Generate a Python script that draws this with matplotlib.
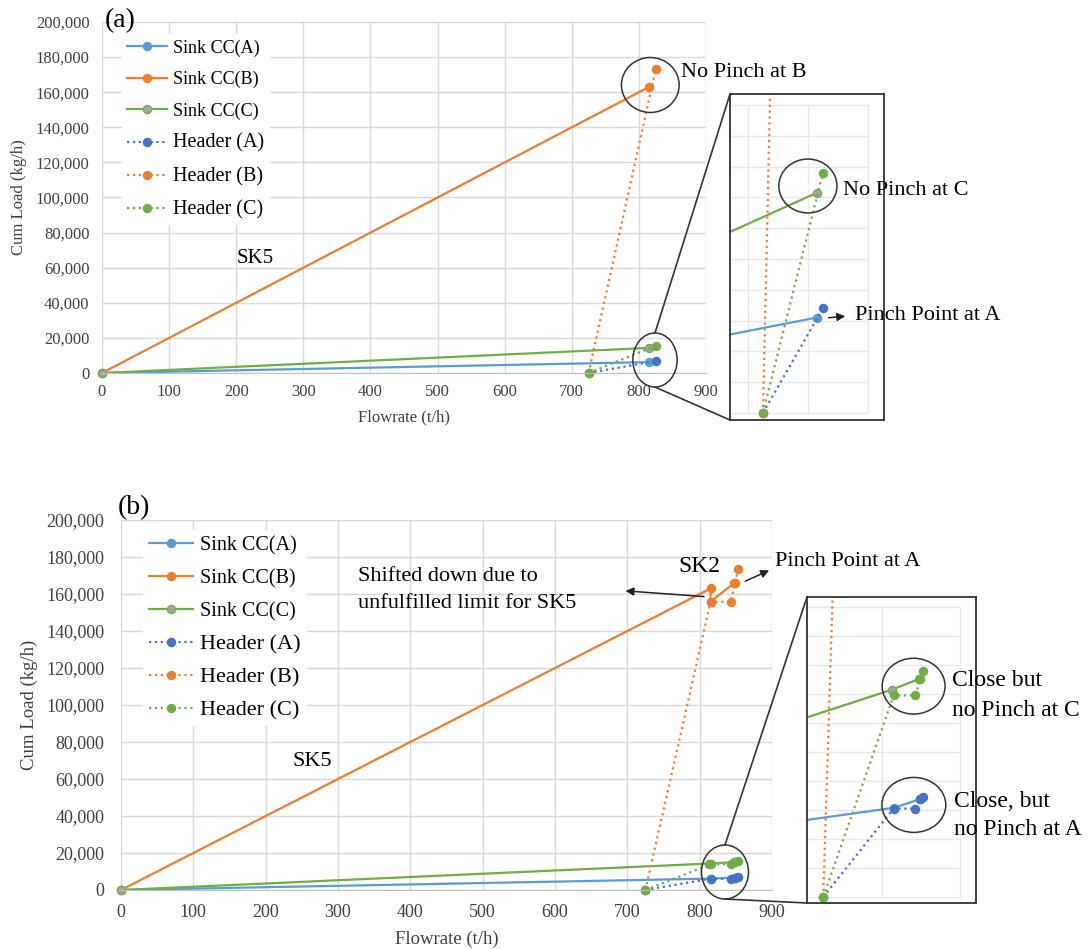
import matplotlib.pyplot as plt
from matplotlib.patches import Ellipse, ConnectionPatch
from matplotlib.ticker import FuncFormatter

plt.rcParams['font.family'] = ['Liberation Serif', 'DejaVu Serif']

# ---- data ----
labels = ['Sink CC(A)', 'Sink CC(B)', 'Sink CC(C)', 'Header (A)', 'Header (B)', 'Header (C)']

# panel (a)
a_sink_x = [0, 815]
a_sinkA_y = [0, 6200]
a_sinkB_y = [0, 163000]
a_sinkC_y = [0, 14300]
a_head_x = [725, 825]
a_headA_y = [0, 6800]
a_headB_y = [0, 173000]
a_headC_y = [0, 15600]

# panel (b)
b_sinkA_x = [0, 815, 849]
b_sinkA_y = [0, 6150, 6750]
b_sinkB_x = [0, 815, 815, 847]
b_sinkB_y = [0, 163000, 155800, 165800]
b_sinkC_x = [0, 813, 848]
b_sinkC_y = [0, 14300, 15050]
b_head_x = [725, 815, 843, 849, 853]
b_headA_y = [0, 6100, 6100, 6750, 6900]
b_headB_y = [0, 155800, 155800, 165800, 173500]
b_headC_y = [0, 13900, 13900, 15050, 15600]

# ---- styles ----
C_SA, C_SB, C_SC = '#5B9BD5', '#ED7D31', '#70AD47'
C_HA, C_HB, C_HC = '#4472C4', '#ED7D31', '#70AD47'
GRAY_M = '#A5A5A5'
GRID = '#d9d9d9'
TXT = '#404040'

W, H = 1091, 949
fig = plt.figure(figsize=(W / 100, H / 100), dpi=100)


def rect(x0, y0, x1, y1):
    # pixel box (top-left origin) -> figure rect
    return [x0 / W, 1 - y1 / H, (x1 - x0) / W, (y1 - y0) / H]


def draw(ax, sinks, heads, clip):
    cols = [C_SA, C_SB, C_SC]
    for i, (x, y) in enumerate(sinks):
        face = GRAY_M if i == 2 else cols[i]
        ax.plot(x, y, '-', color=cols[i], lw=1.6, marker='o', ms=5.8,
                mfc=face, mec=cols[i], label=labels[i], clip_on=clip)
    hcols = [C_HA, C_HB, C_HC]
    for i, (x, y) in enumerate(heads):
        ax.plot(x, y, ':', color=hcols[i], lw=1.6, marker='o', ms=5.8,
                label=labels[3 + i], clip_on=clip)


def main_axes(r, tick_fs, lab_fs, xpad, ypad):
    ax = fig.add_axes(r)
    ax.set_xlim(0, 900)
    ax.set_ylim(0, 200000)
    ax.set_xticks(range(0, 901, 100))
    ax.set_yticks(range(0, 200001, 20000))
    ax.yaxis.set_major_formatter(FuncFormatter(lambda v, p: f'{int(v):,}'))
    ax.grid(True, color=GRID, lw=1)
    ax.set_axisbelow(True)
    for s in ['top', 'right', 'left']:
        ax.spines[s].set_visible(False)
    ax.spines['bottom'].set_color('#bfbfbf')
    ax.tick_params(axis='x', length=0, labelsize=tick_fs, colors=TXT, pad=xpad)
    ax.tick_params(axis='y', length=0, labelsize=tick_fs, colors=TXT, pad=ypad)
    ax.set_xlabel('Flowrate (t/h)', fontsize=lab_fs, color=TXT, labelpad=7)
    ax.set_ylabel('Cum Load (kg/h)', fontsize=lab_fs, color=TXT, labelpad=6)
    return ax


def inset_axes(r, xlim, ylim):
    ax = fig.add_axes(r)
    ax.set_xlim(xlim)
    ax.set_ylim(ylim)
    ax.set_xticks([])
    ax.set_yticks([])
    ax.hlines(range(0, 20001, 2000), xlim[0], 900, color='#e8e8e8', lw=1, zorder=0)
    ax.vlines([700, 800, 900], 0, 20000, color='#e8e8e8', lw=1, zorder=0)
    for s in ax.spines.values():
        s.set_color('#333333')
        s.set_linewidth(1.3)
    return ax


def legend(ax, x, y, fs, hfs, spacing):
    leg = ax.legend(loc='upper left', bbox_to_anchor=(x / W, 1 - y / H),
                    bbox_transform=fig.transFigure, fontsize=fs, frameon=True,
                    fancybox=False, edgecolor='none', facecolor='white',
                    framealpha=1, handlelength=2.2, handletextpad=0.35,
                    labelspacing=spacing, borderpad=0.3, numpoints=1)
    for t in leg.get_texts()[3:]:
        t.set_fontsize(hfs)
    return leg


def circle(ax, cx, cy, w, h):
    ax.add_patch(Ellipse((cx, cy), w, h, fill=False, ec='#333333', lw=1.1,
                         clip_on=False, zorder=5))


def connect(ax_from, xy, ax_to, corner):
    con = ConnectionPatch(xyA=xy, coordsA=ax_from.transData, xyB=corner,
                          coordsB=ax_to.transAxes, color='#333333', lw=1.2)
    fig.add_artist(con)


arrow = dict(arrowstyle='-|>', color='#222222', lw=1.1, mutation_scale=12)

# ================= panel (a) =================
ax_a = main_axes(rect(102, 22, 706, 373), 12, 12, 8, 9)
draw(ax_a, [(a_sink_x, a_sinkA_y), (a_sink_x, a_sinkB_y), (a_sink_x, a_sinkC_y)],
     [(a_head_x, a_headA_y), (a_head_x, a_headB_y), (a_head_x, a_headC_y)], False)
legend(ax_a, 113, 25, 13, 14.5, 0.78)
circle(ax_a, 817, 164100, 86, 31300)
circle(ax_a, 824, 7400, 66, 30800)
ax_a.text(863, 171500, 'No Pinch at B', fontsize=16, va='center', ha='left')
ax_a.text(228, 65500, 'SK5', fontsize=15, va='center', ha='center')
fig.text(105 / W, 1 - 21 / H, '(a)', fontsize=20, va='center', ha='left')

ins_a = inset_axes(rect(730, 94, 884, 420), (670, 927), (-455, 20714))
draw(ins_a, [(a_sink_x, a_sinkA_y), (a_sink_x, a_sinkB_y), (a_sink_x, a_sinkC_y)],
     [(a_head_x, a_headA_y), (a_head_x, a_headB_y), (a_head_x, a_headC_y)], True)
circle(ins_a, 800, 14740, 97, 3500)
ins_a.text(858, 14480, 'No Pinch at C', fontsize=16, va='center', ha='left')
ins_a.text(878, 6300, 'Pinch Point at A', fontsize=16, va='center', ha='left')
ins_a.annotate('', xy=(867, 6300), xytext=(830, 6170), arrowprops=arrow,
               annotation_clip=False)
connect(ax_a, (824, 7400 + 15400), ins_a, (0, 1))
connect(ax_a, (824, 7400 - 15400), ins_a, (0, 0))

# ================= panel (b) =================
ax_b = main_axes(rect(121, 520, 772, 890), 13, 13.5, 10, 12)
draw(ax_b, [(b_sinkA_x, b_sinkA_y), (b_sinkB_x, b_sinkB_y), (b_sinkC_x, b_sinkC_y)],
     [(b_head_x, b_headA_y), (b_head_x, b_headB_y), (b_head_x, b_headC_y)], False)
legend(ax_b, 133, 520, 14.5, 16, 0.68)
circle(ax_b, 835, 9730, 65, 29200)
ax_b.text(799, 174800, 'SK2', fontsize=17, va='center', ha='center')
ax_b.text(904, 177300, 'Pinch Point at A', fontsize=16, va='center', ha='left')
ax_b.annotate('', xy=(899.6, 173400), xytext=(859.5, 166300), arrowprops=arrow,
              annotation_clip=False)
ax_b.text(328, 169200, 'Shifted down due to', fontsize=16, va='center', ha='left')
ax_b.text(328, 155100, 'unfulfilled limit for SK5', fontsize=16, va='center', ha='left')
ax_b.annotate('', xy=(693.6, 161800), xytext=(809.8, 158500), arrowprops=arrow)
ax_b.text(264, 69200, 'SK5', fontsize=16, va='center', ha='center')
fig.text(118 / W, 1 - 508 / H, '(b)', fontsize=20, va='center', ha='left')

ins_b = inset_axes(rect(807, 597, 976, 903), (704.2, 920.4), (-413, 20688))
draw(ins_b, [(b_sinkA_x, b_sinkA_y), (b_sinkB_x, b_sinkB_y), (b_sinkC_x, b_sinkC_y)],
     [(b_head_x, b_headA_y), (b_head_x, b_headB_y), (b_head_x, b_headC_y)], True)
circle(ins_b, 840.6, 14540, 80.5, 3850)
circle(ins_b, 840.9, 6350, 81.7, 3790)
ins_b.text(889.4, 14910, 'Close but', fontsize=17, va='center', ha='left')
ins_b.text(889.4, 12890, 'no Pinch at C', fontsize=17, va='center', ha='left')
ins_b.text(892.3, 6580, 'Close, but', fontsize=17, va='center', ha='left')
ins_b.text(892.3, 4630, 'no Pinch at A', fontsize=17, va='center', ha='left')
connect(ax_b, (835, 9730 + 14600), ins_b, (0, 1))
connect(ax_b, (835, 9730 - 14600), ins_b, (0, 0))

fig.savefig('out.png', dpi=100)
